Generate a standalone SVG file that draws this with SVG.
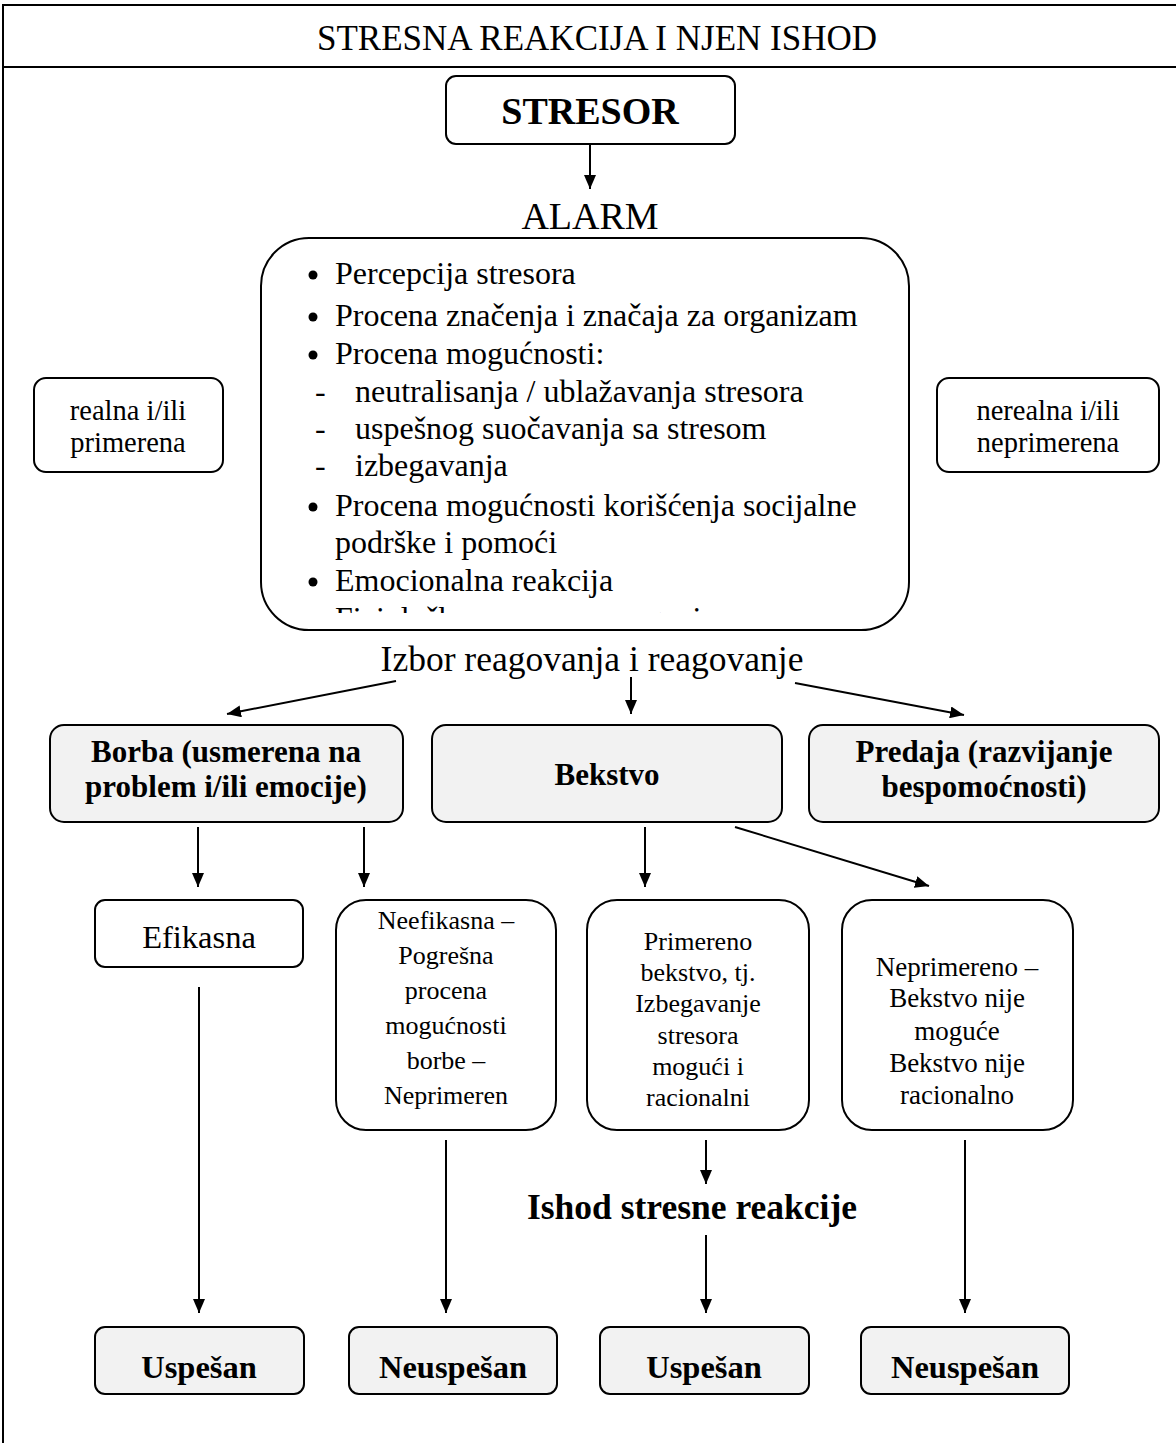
<svg xmlns="http://www.w3.org/2000/svg" width="1176" height="1443" viewBox="0 0 1176 1443">
<style>
  text { font-family: "Liberation Serif", "Times New Roman", serif; fill: #000; }
  .c { text-anchor: middle; }
  .b { font-weight: bold; }
  .box { fill: #fff; stroke: #000; stroke-width: 2; }
  .gbox { fill: #f2f2f2; stroke: #000; stroke-width: 2; }
  .frame { stroke: #000; stroke-width: 2; fill: none; }
  .arr { stroke: #000; stroke-width: 2; fill: none; marker-end: url(#ah); }
  .t32 { font-size: 32px; }
  .t28 { font-size: 28.5px; }
  .t26 { font-size: 26px; }
  .row { font-size: 31px; font-weight: bold; }
  .out { font-size: 32.5px; font-weight: bold; }
</style>
<defs>
  <marker id="ah" markerUnits="userSpaceOnUse" markerWidth="15" markerHeight="12" refX="14" refY="6" orient="auto">
    <path d="M0,0 L14,6 L0,12 z" fill="#000"/>
  </marker>
  <clipPath id="alarmClip">
    <rect x="262" y="240" width="646" height="373"/>
  </clipPath>
</defs>

<g id="frame">
  <line class="frame" x1="3" y1="5" x2="1176" y2="5"/>
  <line class="frame" x1="3" y1="4" x2="3" y2="1443"/>
  <line class="frame" x1="3" y1="67" x2="1176" y2="67"/>
  <text class="c" x="597" y="50" font-size="35">STRESNA REAKCIJA I NJEN ISHOD</text>
</g>

<g id="connectors">
  <line class="arr" x1="590" y1="145" x2="590" y2="189"/>
  <line class="arr" x1="396" y1="681" x2="227" y2="714"/>
  <line class="arr" x1="631" y1="677" x2="631" y2="714"/>
  <line class="arr" x1="795" y1="683" x2="964" y2="715"/>
  <line class="arr" x1="198" y1="827" x2="198" y2="887"/>
  <line class="arr" x1="364" y1="827" x2="364" y2="887"/>
  <line class="arr" x1="645" y1="827" x2="645" y2="887"/>
  <line class="arr" x1="735" y1="827" x2="929" y2="886"/>
  <line class="arr" x1="199" y1="987" x2="199" y2="1313"/>
  <line class="arr" x1="446" y1="1140" x2="446" y2="1313"/>
  <line class="arr" x1="706" y1="1140" x2="706" y2="1184"/>
  <line class="arr" x1="706" y1="1235" x2="706" y2="1313"/>
  <line class="arr" x1="965" y1="1140" x2="965" y2="1313"/>
</g>

<g id="stresor">
  <rect class="box" x="446" y="76" width="289" height="68" rx="10"/>
  <text class="c b" x="590" y="124" font-size="38">STRESOR</text>
</g>

<g id="alarm-label">
  <text class="c" x="590" y="229" font-size="38">ALARM</text>
</g>

<g id="alarm">
  <rect class="box" x="261" y="238" width="648" height="392" rx="48"/>
  <g class="t32">
    <circle cx="313" cy="275" r="4.5"/><text x="335" y="284">Percepcija stresora</text>
    <circle cx="313" cy="317" r="4.5"/><text x="335" y="326">Procena značenja i značaja za organizam</text>
    <circle cx="313" cy="355" r="4.5"/><text x="335" y="364">Procena mogućnosti:</text>
    <text x="315" y="402">-</text><text x="355" y="402">neutralisanja / ublažavanja stresora</text>
    <text x="315" y="439">-</text><text x="355" y="439">uspešnog suočavanja sa stresom</text>
    <text x="315" y="476">-</text><text x="355" y="476">izbegavanja</text>
    <circle cx="313" cy="507" r="4.5"/><text x="335" y="516">Procena mogućnosti korišćenja socijalne</text>
    <text x="335" y="553">podrške i pomoći</text>
    <circle cx="313" cy="582" r="4.5"/><text x="335" y="591">Emocionalna reakcija</text>
    <g clip-path="url(#alarmClip)">
      <circle cx="313" cy="620" r="4.5"/><text x="335" y="629">Fiziološke promene u organizmu</text>
    </g>
  </g>
</g>

<g id="realna">
  <rect class="box" x="34" y="378" width="189" height="94" rx="12"/>
  <text class="c t28" x="128" y="420">realna i/ili</text>
  <text class="c t28" x="128" y="452">primerena</text>
</g>

<g id="nerealna">
  <rect class="box" x="937" y="378" width="222" height="94" rx="12"/>
  <text class="c t28" x="1048" y="420">nerealna i/ili</text>
  <text class="c t28" x="1048" y="452">neprimerena</text>
</g>

<g id="izbor">
  <text class="c" x="592" y="671" font-size="35.5">Izbor reagovanja i reagovanje</text>
</g>

<g id="borba">
  <rect class="gbox" x="50" y="725" width="353" height="97" rx="14"/>
  <text class="c row" x="226" y="762">Borba (usmerena na</text>
  <text class="c row" x="226" y="797">problem i/ili emocije)</text>
</g>

<g id="bekstvo">
  <rect class="gbox" x="432" y="725" width="350" height="97" rx="14"/>
  <text class="c row" x="607" y="785">Bekstvo</text>
</g>

<g id="predaja">
  <rect class="gbox" x="809" y="725" width="350" height="97" rx="14"/>
  <text class="c row" x="984" y="762">Predaja (razvijanje</text>
  <text class="c row" x="984" y="797">bespomoćnosti)</text>
</g>

<g id="efikasna">
  <rect class="box" x="95" y="900" width="208" height="67" rx="10"/>
  <text class="c" x="199" y="948" font-size="32.5">Efikasna</text>
</g>

<g id="neefikasna">
  <rect class="box" x="336" y="900" width="220" height="230" rx="30"/>
  <g class="c t26">
    <text x="446" y="929">Neefikasna –</text>
    <text x="446" y="964">Pogrešna</text>
    <text x="446" y="999">procena</text>
    <text x="446" y="1034">mogućnosti</text>
    <text x="446" y="1069">borbe –</text>
    <text x="446" y="1104">Neprimeren</text>
  </g>
</g>

<g id="primereno">
  <rect class="box" x="587" y="900" width="222" height="230" rx="30"/>
  <g class="c t26">
    <text x="698" y="950">Primereno</text>
    <text x="698" y="981">bekstvo, tj.</text>
    <text x="698" y="1012">Izbegavanje</text>
    <text x="698" y="1044">stresora</text>
    <text x="698" y="1075">mogući i</text>
    <text x="698" y="1106">racionalni</text>
  </g>
</g>

<g id="neprimereno">
  <rect class="box" x="842" y="900" width="231" height="230" rx="30"/>
  <g class="c" font-size="27">
    <text x="957" y="976">Neprimereno –</text>
    <text x="957" y="1007">Bekstvo nije</text>
    <text x="957" y="1040">moguće</text>
    <text x="957" y="1072">Bekstvo nije</text>
    <text x="957" y="1104">racionalno</text>
  </g>
</g>

<g id="ishod">
  <text class="c b" x="692" y="1219" font-size="35.5">Ishod stresne reakcije</text>
</g>

<g id="uspesan1">
  <rect class="gbox" x="95" y="1327" width="209" height="67" rx="10"/>
  <text class="c out" x="199" y="1378">Uspešan</text>
</g>
<g id="neuspesan1">
  <rect class="gbox" x="349" y="1327" width="208" height="67" rx="10"/>
  <text class="c out" x="453" y="1378">Neuspešan</text>
</g>
<g id="uspesan2">
  <rect class="gbox" x="600" y="1327" width="209" height="67" rx="10"/>
  <text class="c out" x="704" y="1378">Uspešan</text>
</g>
<g id="neuspesan2">
  <rect class="gbox" x="861" y="1327" width="208" height="67" rx="10"/>
  <text class="c out" x="965" y="1378">Neuspešan</text>
</g>
</svg>
